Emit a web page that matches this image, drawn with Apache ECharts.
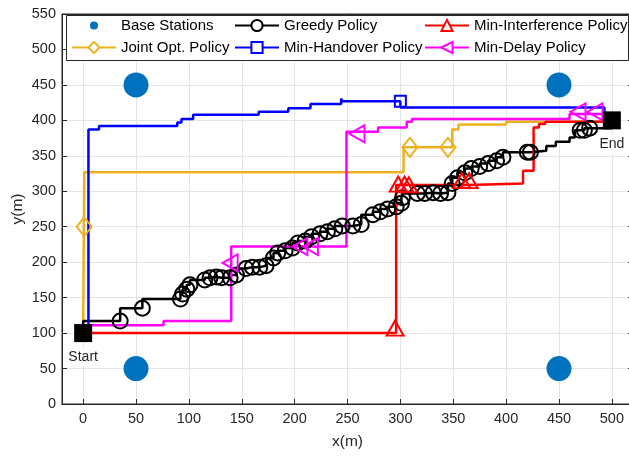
<!DOCTYPE html>
<html>
<head>
<meta charset="utf-8">
<script src="https://cdn.jsdelivr.net/npm/echarts@6/dist/echarts.min.js"></script>
<style>
  html, body { margin: 0; padding: 0; background: #fff; }
  #chart { width: 629px; height: 458px; }
</style>
</head>
<body>
<div id="chart"></div>
<script>
// Axis ticks
const xTicks = [0, 50, 100, 150, 200, 250, 300, 350, 400, 450, 500];

// Base station positions (m)
const baseStations = [[50, 50], [50, 450], [450, 450], [450, 50]];

// Start / end of the route
const startPoint = [0, 100];
const endPoint = [500, 400];

// Joint Opt. Policy trajectory (step corners) and its markers
const jointTrack = [[0, 100], [1, 100], [1, 327], [303, 362], [349, 387], [355, 394], [400, 398], [495, 400], [500, 400]];
const jointMarks = [[1, 250], [309, 362], [345, 362]];

// Greedy Policy trajectory and its markers
const greedyTrack = [[0, 100], [35, 117], [56, 135], [92, 148], [94, 155], [98, 162], [101, 168], [115, 175], [120, 178],
  [126, 179], [131, 178], [139, 178], [145, 182], [154, 191], [160, 193], [167, 193], [173, 195], [180, 206], [184, 213],
  [191, 216], [198, 220], [203, 227], [210, 230], [216, 236], [224, 240], [231, 243], [238, 247], [245, 251], [255, 251],
  [263, 253], [274, 267], [281, 271], [288, 275], [296, 278], [301, 283], [302, 291], [316, 297], [323, 297], [331, 298],
  [338, 297], [345, 298], [349, 311], [354, 319], [361, 326], [367, 332], [375, 335], [383, 339], [391, 343], [397, 348],
  [420, 355], [423, 355], [438, 357], [447, 364], [460, 370], [465, 376], [470, 386], [474, 386], [479, 389], [500, 389], [500, 400]];
const greedyMarks = [[35, 117], [56, 135], [92, 148], [94, 155], [98, 162], [101, 168], [115, 175], [120, 178],
  [126, 179], [131, 178], [139, 178], [145, 182], [154, 191], [160, 193], [167, 193], [173, 195], [180, 206], [184, 213],
  [191, 216], [198, 220], [203, 227], [210, 230], [216, 236], [224, 240], [231, 243], [238, 247], [245, 251], [255, 251],
  [263, 253], [274, 267], [281, 271], [288, 275], [296, 278], [301, 283], [302, 291], [316, 297], [323, 297], [331, 298],
  [338, 297], [345, 298], [349, 311], [354, 319], [361, 326], [367, 332], [375, 335], [383, 339], [391, 343], [397, 348],
  [420, 355], [423, 355], [470, 386], [474, 386], [479, 389]];

// Min-Handover Policy trajectory and its markers
const handoverTrack = [[0, 100], [5, 100], [5, 387], [15, 392], [89, 397], [93, 402], [104, 408], [166, 412], [194, 417],
  [215, 423], [244, 431], [245, 427], [300, 427], [300, 418], [493, 400], [500, 400]];
const handoverMarks = [[300, 427]];

// Min-Interference Policy trajectory and its markers
const interfTrack = [[0, 100], [296, 100], [296, 309], [365, 311], [416, 329], [426, 390], [431, 395], [437, 398], [500, 400]];
const interfMarks = [[295, 107], [298, 310], [304, 310], [308, 309], [358, 315], [365, 315]];

// Min-Delay Policy trajectory and its markers
const delayTrack = [[0, 100], [0, 111], [76, 117], [140, 222], [249, 384], [279, 390], [306, 398], [311, 402], [460, 409], [500, 400]];
const delayMarks = [[139, 199], [205, 222], [215, 222], [259, 381], [468, 412], [484, 412]];

const FONT = '"Liberation Sans", Arial, Helvetica, sans-serif';
const AXIS_COLOR = '#262626';
const GRID_COLOR = '#e4e4e4';
const LINE_W = 2.5;

function policySeries(name, color, track, marks, opts) {
  return [
    {
      name: name,
      type: 'line',
      data: track,
      step: opts.step,
      symbol: opts.legendSymbol,
      symbolRotate: opts.rotate || 0,
      showSymbol: false,
      lineStyle: { color: color, width: LINE_W },
      itemStyle: { color: color },
      emphasis: { disabled: true },
      z: opts.z
    },
    {
      name: name,
      type: 'scatter',
      data: marks,
      symbol: opts.symbol,
      symbolSize: opts.size,
      symbolRotate: opts.rotate || 0,
      itemStyle: { color: 'rgba(0,0,0,0)', borderColor: color, borderWidth: 2, opacity: 1 },
      emphasis: { disabled: true },
      z: opts.z
    }
  ];
}

const legendCommon = {
  orient: 'vertical',
  top: 18,
  itemWidth: 44,
  itemHeight: 14,
  itemGap: 7,
  padding: 0,
  selectedMode: false,
  textStyle: { fontSize: 15, color: '#000', fontFamily: FONT }
};

const dotIcon = 'path://M0,0L0.01,0L0,0.01ZM44,14L43.99,14L44,13.99ZM18,7A4,4,0,1,0,26,7A4,4,0,1,0,18,7Z';

const option = {
  animation: false,
  backgroundColor: '#fff',
  textStyle: { fontFamily: FONT },
  grid: {
    left: 62, right: -4, top: 14, bottom: 54,
    containLabel: false, outerBoundsMode: 'none',
    show: true, borderColor: AXIS_COLOR, borderWidth: 1, backgroundColor: 'rgba(0,0,0,0)'
  },
  xAxis: [
    {
      type: 'value', position: 'bottom', min: -20, max: 520,
      name: 'x(m)', nameLocation: 'middle', nameGap: 30,
      nameTextStyle: { fontSize: 15.5, color: AXIS_COLOR, fontFamily: FONT },
      axisLine: { show: true, onZero: false, lineStyle: { color: AXIS_COLOR, width: 1 } },
      axisTick: { show: true, inside: true, length: 5, customValues: xTicks, lineStyle: { color: AXIS_COLOR } },
      axisLabel: { customValues: xTicks, fontSize: 14.5, color: AXIS_COLOR, margin: 7, fontFamily: FONT },
      splitLine: { show: true, lineStyle: { color: GRID_COLOR, width: 1 } }
    },
    {
      type: 'value', position: 'top', min: -20, max: 520,
      axisLine: { show: true, onZero: false, lineStyle: { color: AXIS_COLOR, width: 1 } },
      axisTick: { show: true, inside: true, length: 5, customValues: xTicks, lineStyle: { color: AXIS_COLOR } },
      axisLabel: { show: false, customValues: xTicks },
      splitLine: { show: false }
    }
  ],
  yAxis: [
    {
      type: 'value', position: 'left', min: 0, max: 550, interval: 50,
      name: 'y(m)', nameLocation: 'middle', nameGap: 36, nameMoveOverlap: false,
      nameTextStyle: { fontSize: 15.5, color: AXIS_COLOR, fontFamily: FONT },
      axisLine: { show: true, onZero: false, lineStyle: { color: AXIS_COLOR, width: 1 } },
      axisTick: { show: true, inside: true, length: 5, lineStyle: { color: AXIS_COLOR } },
      axisLabel: { fontSize: 14.5, color: AXIS_COLOR, margin: 6, fontFamily: FONT },
      splitLine: { show: true, lineStyle: { color: GRID_COLOR, width: 1 } }
    },
    {
      type: 'value', position: 'right', min: 0, max: 550, interval: 50,
      axisLine: { show: true, onZero: false, lineStyle: { color: AXIS_COLOR, width: 1 } },
      axisTick: { show: true, inside: true, length: 5, lineStyle: { color: AXIS_COLOR } },
      axisLabel: { show: false },
      splitLine: { show: false }
    }
  ],
  legend: [
    Object.assign({}, legendCommon, { left: 71, data: [{ name: 'Base Stations', icon: dotIcon }, 'Joint Opt. Policy'] }),
    Object.assign({}, legendCommon, { left: 234, data: ['Greedy Policy', 'Min-Handover Policy'] }),
    Object.assign({}, legendCommon, { left: 424, data: ['Min-Interference Policy', 'Min-Delay Policy'] })
  ],
  graphic: [
    {
      type: 'rect', z: 3, silent: true,
      shape: { x: 66.5, y: 15.5, width: 562, height: 45 },
      style: { fill: '#fff', stroke: AXIS_COLOR, lineWidth: 1 }
    }
  ],
  series: [].concat(
    [{
      name: 'Base Stations',
      type: 'scatter',
      data: baseStations,
      symbol: 'circle',
      symbolSize: 25,
      itemStyle: { color: '#0072BD', opacity: 1 },
      emphasis: { disabled: true },
      z: 2
    }],
    policySeries('Joint Opt. Policy', '#EDB120', jointTrack, jointMarks,
      { step: 'end', legendSymbol: 'emptyDiamond', symbol: 'diamond', size: [15, 19], z: 2 }),
    policySeries('Greedy Policy', '#000000', greedyTrack, greedyMarks,
      { step: 'start', legendSymbol: 'emptyCircle', symbol: 'circle', size: 15, z: 2 }),
    policySeries('Min-Handover Policy', '#0000FF', handoverTrack, handoverMarks,
      { step: 'end', legendSymbol: 'emptyRect', symbol: 'rect', size: 11, z: 2 }),
    policySeries('Min-Interference Policy', '#FF0000', interfTrack, interfMarks,
      { step: 'end', legendSymbol: 'emptyTriangle', symbol: 'triangle', size: [17, 15], z: 2 }),
    policySeries('Min-Delay Policy', '#FF00FF', delayTrack, delayMarks,
      { step: 'end', legendSymbol: 'emptyTriangle', symbol: 'triangle', size: [17, 15], rotate: 90, z: 2 }),
    [{
      type: 'scatter',
      data: [
        { value: startPoint, label: { formatter: 'Start' } },
        { value: endPoint, label: { formatter: 'End' } }
      ],
      symbol: 'rect',
      symbolSize: 18,
      itemStyle: { color: '#000', opacity: 1 },
      label: {
        show: true, position: 'bottom', distance: 6,
        fontSize: 14, color: '#262626', fontFamily: FONT,
        backgroundColor: '#fff', padding: [2, 3]
      },
      emphasis: { disabled: true },
      z: 6
    }]
  )
};

const chart = echarts.init(document.getElementById('chart'), null, { renderer: 'canvas' });
chart.setOption(option);
</script>
</body>
</html>
